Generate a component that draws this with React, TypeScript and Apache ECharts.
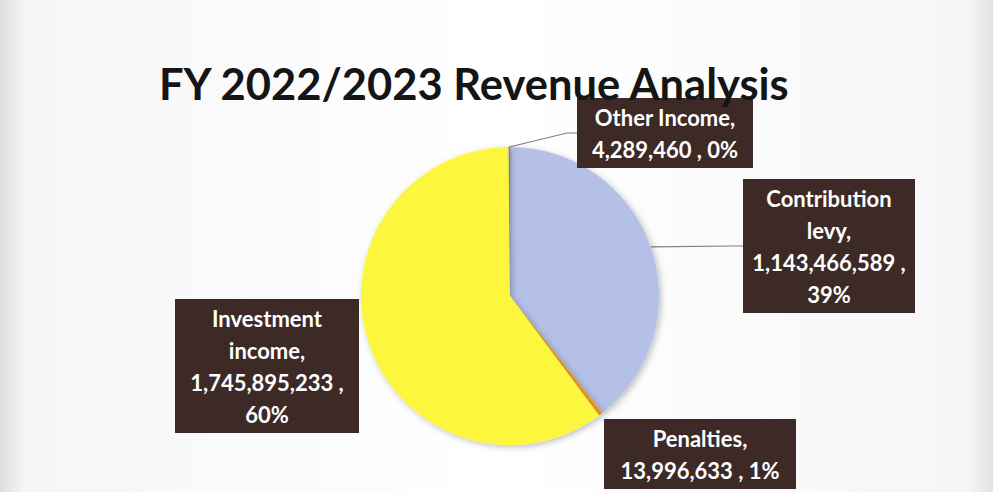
import React, { useEffect, useRef } from "react";
import * as echarts from "echarts";

const titleText = "FY 2022/2023 Revenue Analysis";
const categories = ["Contribution levy", "Penalties", "Investment income", "Other Income"];
const nameLines = ["Contribution\nlevy", "Penalties", "Investment\nincome", "Other Income"];
const valueBreak = [true, false, true, false];
const values = [1143466589, 13996633, 1745895233, 4289460];
const colors = ["#b4c0e6", "#f0a028", "#fcf73c", "#7f7f7f"];

const fmt = (n: number) => n.toLocaleString("en-US");

export default function App() {
  const ref = useRef<HTMLDivElement>(null);
  useEffect(() => {
    document.body.style.margin = "0";
    if (!ref.current) return;
    const chart = echarts.init(ref.current, undefined, { renderer: "svg" });
    const labelCenters: [number, number][] = [
      [829, 246],
      [700, 454],
      [267, 366],
      [665, 133],
    ];
    const boxWidths = [152, 172, 164, 156];
    const showLine = [true, false, false, true];
    chart.setOption({
      animation: false,
      backgroundColor: {
        type: "linear",
        x: 0, y: 0, x2: 1, y2: 0,
        colorStops: [
          { offset: 0, color: "#dedede" },
          { offset: 0.025, color: "#f6f6f6" },
          { offset: 0.5, color: "#ffffff" },
          { offset: 0.975, color: "#f6f6f6" },
          { offset: 1, color: "#e2e2e2" },
        ],
      },
      title: {
        text: titleText,
        left: 154,
        top: 56,
        textStyle: {
          fontFamily: "Lato",
          fontWeight: "bold",
          fontSize: 43.5,
          color: "#151515",
        },
      },
      series: [
        {
          type: "pie",
          center: [510, 296],
          radius: [0, 149],
          startAngle: 90,
          clockwise: true,
          percentPrecision: 0,
          avoidLabelOverlap: false,
          itemStyle: {
            shadowBlur: 6,
            shadowColor: "rgba(0,0,0,0.25)",
            shadowOffsetX: 2,
            shadowOffsetY: 2,
          },
          data: categories.map((c, i) => ({
            name: c,
            value: values[i],
            itemStyle: { color: colors[i] },
            label: { width: boxWidths[i] },
            labelLine: {
              show: showLine[i],
              lineStyle: { color: "#8a7a78", width: 1.2 },
            },
          })),
          label: {
            show: true,
            position: "outside",
            formatter: (p: any) =>
              `${nameLines[p.dataIndex]},\n${fmt(p.value)} ,${valueBreak[p.dataIndex] ? "\n" : " "}${p.percent}%`,
            backgroundColor: "#3d2a27",
            color: "#ffffff",
            fontFamily: "Lato",
            fontWeight: "bold",
            fontSize: 22,
            lineHeight: 32,
            align: "center",
            overflow: "none",
            padding: [3, 10, 3, 10],
          },
          labelLine: { show: true, length: 20, length2: 10 },
          labelLayout: (params: any) => {
            const c = labelCenters[params.dataIndex];
            return { x: c[0], y: c[1], align: "center", verticalAlign: "middle" };
          },
        },
      ],
    });
    return () => chart.dispose();
  }, []);
  return <div ref={ref} style={{ width: 993, height: 492 }} />;
}
